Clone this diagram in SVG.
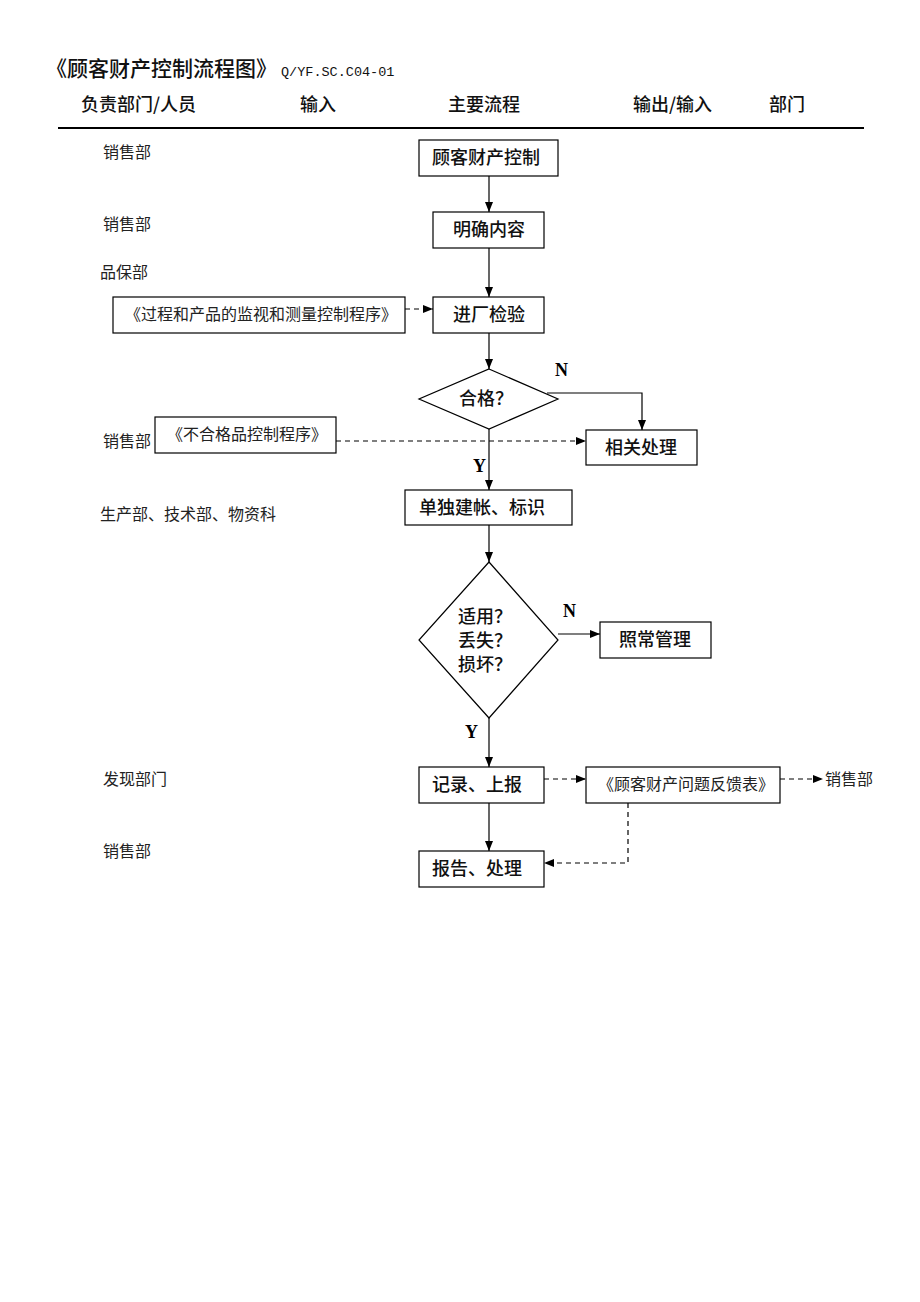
<svg xmlns="http://www.w3.org/2000/svg" width="920" height="1302" viewBox="0 0 920 1302">
<style>
.box{fill:#fff;stroke:#000;stroke-width:1.2}
.ln{fill:none;stroke:#000;stroke-width:1.2}
.dash{fill:none;stroke:#000;stroke-width:1.2;stroke-dasharray:5,4}
.hd{font-family:"Noto Sans CJK SC","Liberation Sans",sans-serif;font-size:18px;font-weight:500;fill:#111}
.nt{font-family:"Noto Sans CJK SC","Liberation Sans",sans-serif;font-size:18px;font-weight:500;fill:#111;text-anchor:middle}
.dp{font-family:"Liberation Serif","Noto Sans CJK SC",serif;font-size:16px;fill:#222}
.in{font-family:"Liberation Serif","Noto Sans CJK SC",serif;font-size:16px;fill:#222;text-anchor:middle}
.yn{font-family:"Liberation Serif",serif;font-size:18px;font-weight:bold;fill:#000}
</style>
<defs>
<marker id="ah" viewBox="0 0 10 10" refX="10" refY="5" markerWidth="10" markerHeight="10" markerUnits="userSpaceOnUse" orient="auto">
<path d="M0,1 L10,5 L0,9 Z" fill="#000"/>
</marker>
</defs>
<rect width="920" height="1302" fill="#fff"/>
<g id="title">
<text x="46" y="76" font-family="'Noto Sans CJK SC',sans-serif" font-size="21" font-weight="500" fill="#111">《顾客财产控制流程图》</text>
<text x="281" y="76" font-family="'Liberation Mono','Noto Sans CJK SC',monospace" font-size="13.5" fill="#111">Q/YF.SC.C04-01</text>
</g>
<g id="header">
<text class="hd" x="81" y="111">负责部门/人员</text>
<text class="hd" x="300" y="111">输入</text>
<text class="hd" x="448" y="111">主要流程</text>
<text class="hd" x="633" y="111">输出/输入</text>
<text class="hd" x="769" y="111">部门</text>
<line x1="58" y1="128" x2="864" y2="128" stroke="#000" stroke-width="2"/>
</g>
<g id="departments">
<text class="dp" x="103" y="158">销售部</text>
<text class="dp" x="103" y="230">销售部</text>
<text class="dp" x="100" y="278">品保部</text>
<text class="dp" x="103" y="447">销售部</text>
<text class="dp" x="100" y="520">生产部、技术部、物资科</text>
<text class="dp" x="103" y="785">发现部门</text>
<text class="dp" x="103" y="857">销售部</text>
<text class="dp" x="825" y="785">销售部</text>
</g>
<g id="connectors">
<line class="ln" x1="489" y1="176" x2="489" y2="212" marker-end="url(#ah)"/>
<line class="ln" x1="489" y1="248" x2="489" y2="297" marker-end="url(#ah)"/>
<line class="dash" x1="405" y1="309" x2="433" y2="309" marker-end="url(#ah)"/>
<line class="ln" x1="489" y1="333" x2="489" y2="369" marker-end="url(#ah)"/>
<polyline class="ln" points="547,393 642,393 642,430" marker-end="url(#ah)"/>
<line class="dash" x1="336" y1="441" x2="586" y2="441" marker-end="url(#ah)"/>
<line class="ln" x1="489" y1="429" x2="489" y2="490" marker-end="url(#ah)"/>
<line class="ln" x1="489" y1="525" x2="489" y2="562" marker-end="url(#ah)"/>
<line class="ln" x1="558" y1="634" x2="600" y2="634" marker-end="url(#ah)"/>
<line class="ln" x1="489" y1="718" x2="489" y2="767" marker-end="url(#ah)"/>
<line class="dash" x1="544" y1="779" x2="586" y2="779" marker-end="url(#ah)"/>
<line class="dash" x1="780" y1="779" x2="823" y2="779" marker-end="url(#ah)"/>
<line class="ln" x1="489" y1="803" x2="489" y2="851" marker-end="url(#ah)"/>
<polyline class="dash" points="628,803 628,863 544,863" marker-end="url(#ah)"/>
<text class="yn" x="555" y="376">N</text>
<text class="yn" x="473" y="472">Y</text>
<text class="yn" x="563" y="617">N</text>
<text class="yn" x="465" y="738">Y</text>
</g>
<g id="n1"><rect class="box" x="419" y="140" width="139" height="36"/><text class="nt" x="486" y="164">顾客财产控制</text></g>
<g id="n2"><rect class="box" x="433" y="212" width="111" height="36"/><text class="nt" x="489" y="236">明确内容</text></g>
<g id="n3"><rect class="box" x="433" y="297" width="111" height="36"/><text class="nt" x="489" y="321">进厂检验</text></g>
<g id="n4"><polygon class="box" points="489,369 558,399 489,429 419,399"/><text class="nt" x="486" y="405">合格？</text></g>
<g id="n5"><rect class="box" x="586" y="430" width="111" height="35"/><text class="nt" x="641" y="454">相关处理</text></g>
<g id="n6"><rect class="box" x="405" y="490" width="167" height="35"/><text class="nt" x="482" y="514">单独建帐、标识</text></g>
<g id="n7"><polygon class="box" points="489,562 558,640 489,718 419,640"/>
<text class="nt" x="485" y="623">适用？</text><text class="nt" x="485" y="647">丢失？</text><text class="nt" x="485" y="671">损坏？</text></g>
<g id="n8"><rect class="box" x="600" y="622" width="111" height="36"/><text class="nt" x="655" y="646">照常管理</text></g>
<g id="n9"><rect class="box" x="419" y="767" width="125" height="36"/><text class="nt" x="477" y="791">记录、上报</text></g>
<g id="n10"><rect class="box" x="419" y="851" width="125" height="36"/><text class="nt" x="477" y="875">报告、处理</text></g>
<g id="i1"><rect class="box" x="113" y="297" width="292" height="36"/><text class="in" x="261" y="320">《过程和产品的监视和测量控制程序》</text></g>
<g id="i2"><rect class="box" x="155" y="417" width="181" height="36"/><text class="in" x="247" y="440">《不合格品控制程序》</text></g>
<g id="i3"><rect class="box" x="586" y="767" width="194" height="36"/><text class="in" x="686" y="790">《顾客财产问题反馈表》</text></g>
</svg>
